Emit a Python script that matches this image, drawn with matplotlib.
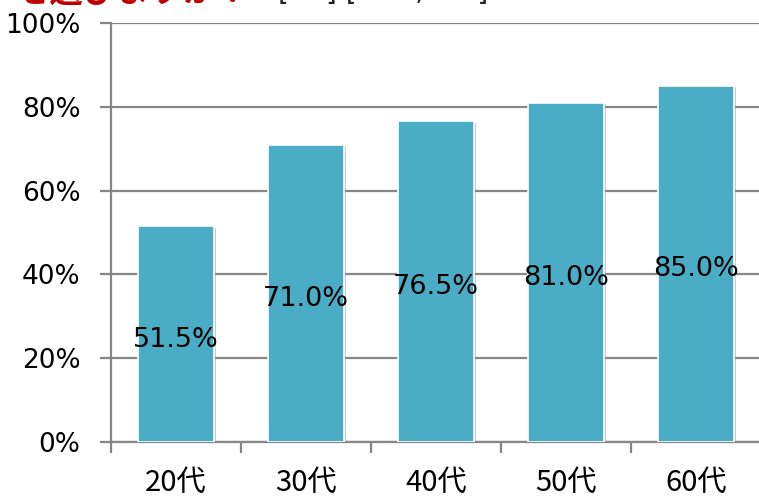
import matplotlib.pyplot as plt
import matplotlib.patheffects as pe
from matplotlib.ticker import FixedLocator, NullFormatter

plt.rcParams['font.family'] = ['DejaVu Sans']

# chart data
ages = ["20代", "30代", "40代", "50代", "60代"]
share = [51.5, 71.0, 76.5, 81.0, 85.0]
y_ticks = [0, 20, 40, 60, 80, 100]

bar_color = "#4BACC6"
grid_color = "#868686"

fig = plt.figure(figsize=(7.59, 4.97), dpi=100)
ax = fig.add_axes([111 / 759, 1 - 442 / 497, 650 / 759, 419 / 497])

x = list(range(len(ages)))
bars = ax.bar(x, share, width=0.58, color=bar_color, edgecolor="white",
              linewidth=1.2, zorder=3)
for b in bars:
    b.set_path_effects([pe.SimplePatchShadow(offset=(2, -1), shadow_rgbFace="#999999", alpha=0.5),
                        pe.Normal()])

# value labels a little below the middle of each bar
for xi, v in zip(x, share):
    ax.text(xi, v / 2 - 1.3, f"{v:.1f}%", ha="center", va="center", fontsize=19.5,
            color="black", zorder=4)

ax.set_xlim(-0.5, len(ages) - 0.5)
ax.set_ylim(0, 100)
ax.set_yticks(y_ticks)
ax.set_yticklabels([f"{t}%" for t in y_ticks], fontsize=19)
ax.yaxis.grid(True, color=grid_color, linewidth=1.6, zorder=0)
ax.set_axisbelow(True)

# category labels between boundary ticks
ax.xaxis.set_major_locator(FixedLocator([i - 0.5 for i in range(len(ages) + 1)]))
ax.xaxis.set_major_formatter(NullFormatter())
ax.xaxis.set_minor_locator(FixedLocator(x))
ax.set_xticklabels(ages, minor=True, fontsize=21,
                   family=["Noto Sans CJK JP", "DejaVu Sans"])
ax.tick_params(axis="x", which="minor", length=0, pad=19)
ax.tick_params(axis="x", which="major", length=8, width=1.6, color=grid_color)
ax.tick_params(axis="y", length=8, width=1.6, color=grid_color, pad=14)

for side in ["top", "right"]:
    ax.spines[side].set_visible(False)
for side in ["left", "bottom"]:
    ax.spines[side].set_color(grid_color)
    ax.spines[side].set_linewidth(1.6)

# title line, cut off at the top edge of the picture
fig.text(250 / 759, 1 - 3 / 497, "を選びますか？", fontsize=24, fontweight="bold",
         color="#C00000", ha="right", va="baseline",
         family=["Noto Sans CJK JP", "DejaVu Sans"])
fig.text(278 / 759, 1 + 0 / 497, "[SA] [n=1,000]", fontsize=20, color="#222222",
         va="baseline")

fig.savefig("out.png", dpi=100)
